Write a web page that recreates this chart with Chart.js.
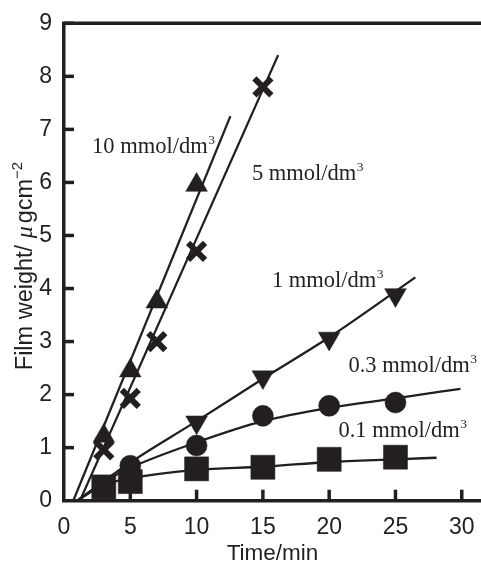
<!DOCTYPE html>
<html><head><meta charset="utf-8">
<script src="https://cdn.jsdelivr.net/npm/chart.js@4/dist/chart.umd.min.js"></script>
<style>html,body{margin:0;padding:0;background:#fff;}#wrap{width:481px;height:563px;position:relative;}</style>
</head><body><div id="wrap"><canvas id="c" width="481" height="563"></canvas></div>
<script>
// ---- data ----
const xTickValues = [0, 5, 10, 15, 20, 25, 30];
const yTickValues = [0, 1, 2, 3, 4, 5, 6, 7, 8, 9];

const time10 = [3, 5, 7, 10];
const weight10 = [1.22, 2.45, 3.75, 5.95];
const time5 = [3, 5, 7, 10, 15];
const weight5 = [0.96, 1.93, 3.0, 4.7, 7.8];
const time1 = [10, 15, 20, 25];
const weight1 = [1.48, 2.33, 3.06, 3.88];
const time03 = [5, 10, 15, 20, 25];
const weight03 = [0.66, 1.04, 1.6, 1.79, 1.85];
const time01 = [3, 5, 10, 15, 20, 25];
const weight01 = [0.26, 0.36, 0.6, 0.63, 0.78, 0.82];

// fitted curves, read as points from the picture
const fitTime10 = [0.7, 12.55];
const fitWeight10 = [0, 7.25];
const fitTime5 = [1.2, 16.15];
const fitWeight5 = [0, 8.4];
const fitTime1 = [1.0, 5, 10, 15, 20, 26.5];
const fitWeight1 = [0, 0.72, 1.5, 2.3, 3.08, 4.21];
const fitTime03 = [1.0, 3, 5, 10, 15, 20, 25, 29.9];
const fitWeight03 = [0, 0.35, 0.62, 1.1, 1.5, 1.75, 1.93, 2.11];
const fitTime01 = [1.0, 3, 5, 10, 15, 20, 25, 28.1];
const fitWeight01 = [0, 0.3, 0.42, 0.58, 0.64, 0.73, 0.78, 0.81];

const seriesNames = ['10 mmol/dm', '5 mmol/dm', '1 mmol/dm', '0.3 mmol/dm', '0.1 mmol/dm'];
const xTitle = 'Time/min';

// ---- presentation ----
const INK = '#231f20';
const labelAnchors = [ // data coords of left/baseline of each series label
  {x: 2.12, y: 6.55}, {x: 14.17, y: 6.05}, {x: 15.68, y: 4.03}, {x: 21.45, y: 2.43}, {x: 20.7, y: 1.20}
];
const zip = (xs, ys) => xs.map((x, i) => ({x, y: ys[i]}));

function markerSet(xs, ys, style, radius, rotation, bw) {
  return {
    data: zip(xs, ys), showLine: false, order: 0, clip: false,
    pointStyle: style, pointRadius: radius, pointHoverRadius: radius, pointRotation: rotation || 0,
    pointBackgroundColor: INK, pointBorderColor: INK, pointBorderWidth: bw || 0.5
  };
}
function fitSet(xs, ys) {
  return {
    data: zip(xs, ys), showLine: true, order: 1, pointRadius: 0, pointHoverRadius: 0,
    borderColor: INK, borderWidth: 2.3, cubicInterpolationMode: 'monotone', fill: false
  };
}

const datasets = [
  markerSet(time10, weight10, 'triangle', 12.5, 0),
  markerSet(time5, weight5, 'crossRot', 12, 0, 6),
  markerSet(time1, weight1, 'triangle', 12.5, 180),
  markerSet(time03, weight03, 'circle', 10.5, 0),
  markerSet(time01, weight01, 'rect', 17, 0),
  fitSet(fitTime10, fitWeight10),
  fitSet(fitTime5, fitWeight5),
  fitSet(fitTime1, fitWeight1),
  fitSet(fitTime03, fitWeight03),
  fitSet(fitTime01, fitWeight01)
];

const decor = {
  id: 'decor',
  afterDraw(chart) {
    const {ctx, chartArea: a, scales: {x, y}} = chart;
    ctx.save();
    ctx.strokeStyle = INK;
    ctx.lineCap = 'butt';
    // top frame line
    ctx.lineWidth = 3.5;
    ctx.beginPath(); ctx.moveTo(a.left - 1.75, a.top); ctx.lineTo(a.right, a.top); ctx.stroke();
    // inward ticks
    xTickValues.forEach(v => {
      if (v === 0) return;
      const px = x.getPixelForValue(v);
      ctx.beginPath(); ctx.moveTo(px, a.bottom); ctx.lineTo(px, a.bottom - 11); ctx.stroke();
    });
    yTickValues.forEach(v => {
      if (v === 0) return;
      const py = y.getPixelForValue(v);
      ctx.beginPath(); ctx.moveTo(a.left, py); ctx.lineTo(a.left + 10, py); ctx.stroke();
    });
    // series labels
    ctx.fillStyle = INK;
    ctx.textBaseline = 'alphabetic';
    ctx.textAlign = 'left';
    seriesNames.forEach((name, i) => {
      const px = x.getPixelForValue(labelAnchors[i].x);
      const py = y.getPixelForValue(labelAnchors[i].y);
      ctx.font = '22.5px "Liberation Serif"';
      ctx.fillText(name, px, py);
      const w = ctx.measureText(name).width;
      ctx.font = '13.5px "Liberation Serif"';
      ctx.fillText('3', px + w + 0.5, py - 9);
    });
    // y axis title
    ctx.translate(32, 266);
    ctx.rotate(-Math.PI / 2);
    const parts = [
      {t: 'Film weight/ ', f: '23.5px "Liberation Sans"', dy: 0, gap: 0},
      {t: 'μ', f: 'italic 24px "Liberation Serif"', dy: 0, gap: 3},
      {t: 'gcm', f: '23.5px "Liberation Sans"', dy: 0, gap: 0},
      {t: '−2', f: '15px "Liberation Sans"', dy: -10, gap: 0}
    ];
    let total = 0;
    parts.forEach(p => { ctx.font = p.f; p.w = ctx.measureText(p.t).width; total += p.w + p.gap; });
    let cx = -total / 2;
    parts.forEach(p => { ctx.font = p.f; ctx.fillText(p.t, cx, p.dy); cx += p.w + p.gap; });
    ctx.restore();
  }
};

new Chart(document.getElementById('c'), {
  type: 'scatter',
  data: {datasets},
  plugins: [decor],
  options: {
    responsive: false, animation: false, devicePixelRatio: 1,
    layout: {padding: {top: 23.3, right: 0, left: 0, bottom: 0}, autoPadding: false},
    plugins: {legend: {display: false}, tooltip: {enabled: false}},
    scales: {
      x: {
        type: 'linear', position: 'bottom', min: 0, max: 31.45,
        afterBuildTicks: s => { s.ticks = xTickValues.map(v => ({value: v})); },
        afterFit: s => { s.height = 62.3; s.paddingLeft = 0; s.paddingRight = 0; },
        grid: {display: false, drawTicks: false},
        border: {display: true, color: INK, width: 3.5},
        ticks: {color: INK, padding: 13, maxRotation: 0, autoSkip: false,
                font: {family: '"Liberation Sans"', size: 23}},
        title: {display: true, text: xTitle, color: INK, padding: {top: 0, bottom: -4.5},
                font: {family: '"Liberation Sans"', size: 22.5}}
      },
      y: {
        type: 'linear', min: 0, max: 9,
        afterBuildTicks: s => { s.ticks = yTickValues.map(v => ({value: v})); },
        afterFit: s => { s.width = 64; s.paddingTop = 0; s.paddingBottom = 0; },
        grid: {display: false, drawTicks: false},
        border: {display: true, color: INK, width: 3.5},
        ticks: {color: INK, padding: 12, font: {family: '"Liberation Sans"', size: 23}}
      }
    }
  }
});
</script></body></html>
